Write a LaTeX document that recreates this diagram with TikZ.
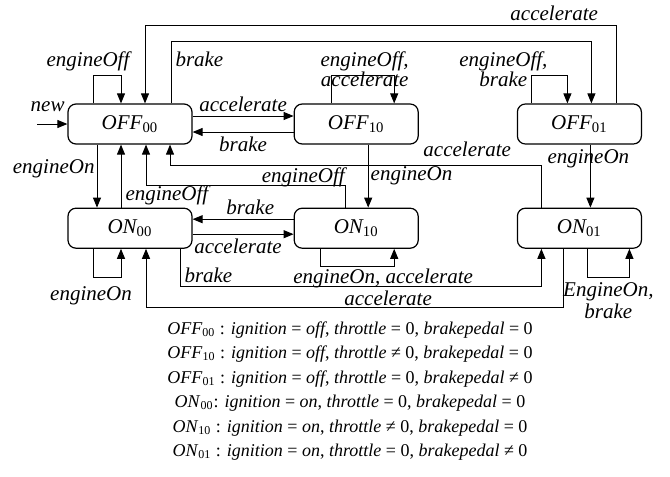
\documentclass[tikz,border=0pt]{standalone}
\usepackage{fontspec}
\setmainfont{Liberation Serif}
\usetikzlibrary{arrows.meta, positioning}

% state name with upright index
\newcommand{\stname}[2]{\textit{#1}\textsubscript{\upshape #2}}

\begin{document}
\begin{tikzpicture}[
		x=0.5pt, y=-0.5pt,
		inner sep=2pt,
		font=\fontsize{10.5}{10}\selectfont\itshape,
		state/.style={
			rectangle,
			rounded corners=4pt,
			draw,
			line width=0.6pt,
			minimum width=62pt,
			minimum height=20pt,
			inner sep=1pt,
		},
		arrow/.style={-{Triangle[length=5pt, width=4pt]}, line width=0.5pt},
		]
		\useasboundingbox (0,0) rectangle (670,477);

		\node[state] (off00) at (130,124) {\stname{OFF}{00}};
		\node[state, right=50.5pt of off00] (off10) {\stname{OFF}{10}};
		\node[state, right=49pt of off10] (off01) {\stname{OFF}{01}};
		\node[state, below=31.5pt of off00] (on00) {\stname{ON}{00}};
		\node[state, below=31.5pt of off10] (on10) {\stname{ON}{10}};
		\node[state, below=31.5pt of off01] (on01) {\stname{ON}{01}};
		\coordinate (init) at (37,124);

		% upper row
		\draw[arrow] (init) -- node[above, pos=0.35, yshift=4pt] {new} (off00);
		\draw[arrow] ([xshift=-18.5pt]off00.north) -- ++(0,-28) -- node[above, xshift=-9.5pt] {engineOff} ++(28,0) -- ([xshift=-4.5pt]off00.north);
		\draw[arrow] ([xshift=18.5pt]off01.north) -- ++(0,-78) node[above left, xshift=-7pt] {accelerate} -| ([xshift=7.5pt]off00.north);
		\draw[arrow] ([xshift=20.5pt]off00.north) -- ++(0,-62) node[below right, yshift=-3pt] {brake} -| ([xshift=6pt]off01.north);
		\draw[arrow] ([yshift=4pt]off00.east) -- node[above] {accelerate} ([yshift=4pt]off10.west);
		\draw[arrow] ([yshift=-4pt]off10.west) -- node[below] {brake} ([yshift=-4pt]off00.east);
		\draw[arrow] ([xshift=-12.5pt]off10.north) -- ++(0,-28) -- node[align=center, xshift=1pt, yshift=3pt] {engineOff,\\accelerate} ++(63,0) -- ([xshift=19pt]off10.north);
		\draw[arrow] ([xshift=-24pt]off01.north) -- ++(0,-28) node[align=center, xshift=-14pt, yshift=3pt] {engineOff,\\brake} -- ++(36,0) -- ([xshift=-6pt]off01.north);

		% between the rows
		\draw[arrow] ([xshift=-16.5pt]off00.south) -- node[left, pos=0.38, inner xsep=1pt] {engineOn} ([xshift=-16.5pt]on00.north);
		\draw[arrow] ([xshift=-4.5pt]on00.north) -- node[right, pos=0.2] {engineOff} ([xshift=-4.5pt]off00.south);
		\draw[arrow] ([xshift=-5.5pt]on10.north) -- ++(0,-22) node[above left, xshift=2pt, yshift=-3pt] {engineOff} -| ([xshift=8pt]off00.south);
		\draw[arrow] ([xshift=-19pt]on01.north) -- ++(0,-42) node[above left, xshift=-13pt, yshift=2pt] {accelerate} -| ([xshift=20pt]off00.south);
		\draw[arrow] ([xshift=6pt]off10.south) -- node[right, inner xsep=1pt] {engineOn} ([xshift=6pt]on10.north);
		\draw[arrow] ([xshift=5.5pt]off01.south) -- node[pos=0.22, xshift=-1pt, inner sep=0pt] {engineOn} ([xshift=5.5pt]on01.north);

		% lower row
		\draw[arrow] ([yshift=4.5pt]on10.west) -- node[above, pos=0.43] {brake} ([yshift=4.5pt]on00.east);
		\draw[arrow] ([yshift=-3pt]on00.east) -- node[below, pos=0.45] {accelerate} ([yshift=-3pt]on10.west);
		\draw[arrow] ([xshift=-18.5pt]on00.south) -- ++(0,29) -- node[below, xshift=-8pt, yshift=-2pt] {engineOn} ++(28,0) -- ([xshift=-4.5pt]on00.south);
		\draw[arrow] ([xshift=-18pt]on10.south) -- ++(0,18) -- node[below, inner sep=0.5pt, xshift=13pt, yshift=-0.5pt] {engineOn, accelerate} ++(74,0) -- ([xshift=19pt]on10.south);
		\draw[arrow] ([xshift=25pt]on00.south) -- ++(0,38) node[above right] {brake} -| ([xshift=-19pt]on01.south);
		\draw[arrow] ([xshift=-8pt]on01.south) -- ++(0,59) -| node[above, pos=0.21, inner sep=0.5pt, yshift=0.5pt] {accelerate} ([xshift=8pt]on00.south);
		\draw[arrow] ([xshift=4pt]on01.south) -- ++(0,29) -- node[below, align=center, font=\fontsize{10.5}{11}\selectfont\itshape] {EngineOn,\\brake} ++(42,0) -- ([xshift=25pt]on01.south);

		% meaning of the states
		\node[align=center, font=\fontsize{9}{12.2}\selectfont\upshape] (legend) at (350,391) {
			\stname{OFF}{00} : \textit{ignition} = \textit{off}, \textit{throttle} = 0, \textit{brakepedal} = 0\\
			\stname{OFF}{10} : \textit{ignition} = \textit{off}, \textit{throttle} ≠ 0, \textit{brakepedal} = 0\\
			\stname{OFF}{01} : \textit{ignition} = \textit{off}, \textit{throttle} = 0, \textit{brakepedal} ≠ 0\\
			\stname{ON}{00}: \textit{ignition} = \textit{on}, \textit{throttle} = 0, \textit{brakepedal} = 0\\
			\stname{ON}{10} : \textit{ignition} = \textit{on}, \textit{throttle} ≠ 0, \textit{brakepedal} = 0\\
			\stname{ON}{01} : \textit{ignition} = \textit{on}, \textit{throttle} = 0, \textit{brakepedal} ≠ 0};
	\end{tikzpicture}
\end{document}
